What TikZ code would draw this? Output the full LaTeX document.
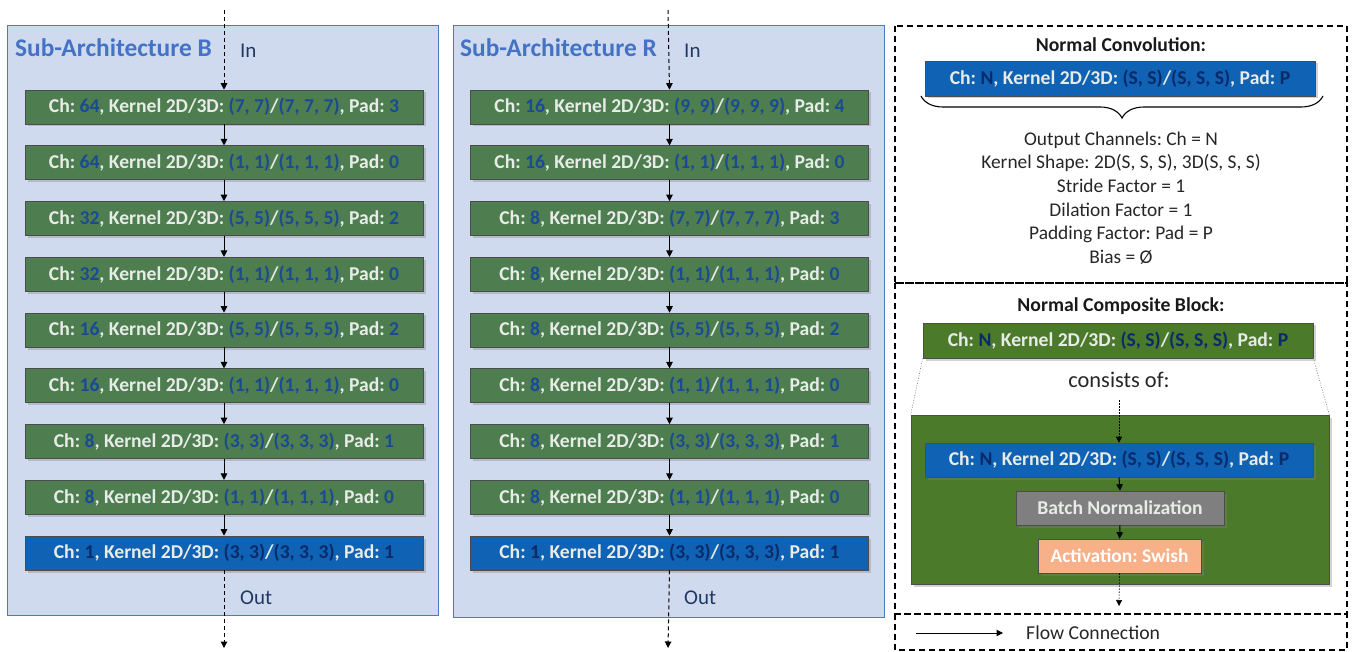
\documentclass[tikz,border=0pt]{standalone}
\usepackage{fontspec}
\setmainfont{Carlito}
\usetikzlibrary{arrows.meta,shadows,decorations.pathreplacing}
\frenchspacing
\definecolor{panelfill}{HTML}{CFDAEE}
\definecolor{panelline}{HTML}{4F78C0}
\definecolor{lgreen}{HTML}{4E7D4F}
\definecolor{cgreen}{HTML}{4B7A2B}
\definecolor{lblue}{HTML}{0F62B4}
\definecolor{numg}{HTML}{1A4A94}
\definecolor{numb}{HTML}{0A2A6A}
\definecolor{txtw}{HTML}{E8ECE8}
\definecolor{titleblue}{HTML}{4472C4}
\definecolor{inblue}{HTML}{1F3864}
\definecolor{bngrey}{HTML}{7F7F7F}
\definecolor{actor}{HTML}{F7B088}
\definecolor{bodytxt}{HTML}{262626}
\newcommand{\lt}[5]{Ch: \textcolor{#1}{#2}, Kernel 2D/3D: \textcolor{#1}{#3}/\textcolor{#1}{#4}, Pad: \textcolor{#1}{#5}}
\tikzset{
  layer/.style={draw=black!70, line width=0.6pt, minimum width=398pt, minimum height=34pt,
    inner sep=0pt, font=\fontsize{19.6}{22}\selectfont\bfseries, text=txtw,
    drop shadow={shadow xshift=2.5pt, shadow yshift=-2.5pt, opacity=0.35}},
  glayer/.style={layer, fill=lgreen},
  blayer/.style={layer, fill=lblue},
  flow/.style={-{Triangle[length=6.5pt,width=6.5pt]}, line width=1pt, black},
  dflow/.style={flow, dash pattern=on 4pt off 3pt},
  dotflow/.style={-{Triangle[length=6pt,width=6pt]}, line width=0.6pt, black, dash pattern=on 1.5pt off 1.5pt},
  panel/.style={draw=panelline, fill=panelfill, line width=1pt},
  ptitle/.style={anchor=west, text=titleblue, font=\fontsize{25.4}{28}\selectfont\bfseries, inner sep=0pt},
  iolabel/.style={anchor=west, text=inblue, font=\fontsize{21}{24}\selectfont, inner sep=0pt},
  dbox/.style={draw=black, line width=1.2pt, dash pattern=on 6pt off 4pt},
  btitle/.style={font=\fontsize{19.7}{22}\selectfont\bfseries, text=black!90},
  body/.style={font=\fontsize{19.4}{23.6}\selectfont, text=bodytxt, align=center},
}
\begin{document}
\begin{tikzpicture}[x=1pt,y=-1pt]
\useasboundingbox (0,0) rectangle (1352,652);
% ---------------- Panel B ----------------
\draw[panel] (7,26) rectangle (438,615);
\node[ptitle] (tB) at (15,48) {Sub-Architecture B};
\node[iolabel] (inB) at (240,51) {In};
\node[iolabel] (outB) at (240,598) {Out};
\node[glayer] (b1) at (224,107) {\lt{numg}{64}{(7, 7)}{(7, 7, 7)}{3}};
\node[glayer] (b2) at (224,162.75) {\lt{numg}{64}{(1, 1)}{(1, 1, 1)}{0}};
\node[glayer] (b3) at (224,218.5) {\lt{numg}{32}{(5, 5)}{(5, 5, 5)}{2}};
\node[glayer] (b4) at (224,274.25) {\lt{numg}{32}{(1, 1)}{(1, 1, 1)}{0}};
\node[glayer] (b5) at (224,330) {\lt{numg}{16}{(5, 5)}{(5, 5, 5)}{2}};
\node[glayer] (b6) at (224,385.75) {\lt{numg}{16}{(1, 1)}{(1, 1, 1)}{0}};
\node[glayer] (b7) at (224,441.5) {\lt{numg}{8}{(3, 3)}{(3, 3, 3)}{1}};
\node[glayer] (b8) at (224,497.25) {\lt{numg}{8}{(1, 1)}{(1, 1, 1)}{0}};
\node[blayer] (b9) at (224,553) {\lt{numb}{1}{(3, 3)}{(3, 3, 3)}{1}};
\coordinate (bin) at (224,10);
\coordinate (bout) at (224,648);
\draw[dflow] (bin) -- (b1.north);
\foreach \a/\b in {b1/b2,b2/b3,b3/b4,b4/b5,b5/b6,b6/b7,b7/b8,b8/b9} \draw[flow] (\a.south) -- (\b.north);
\draw[dflow] (b9.south) -- (bout);
% ---------------- Panel R ----------------
\draw[panel] (453,26) rectangle (884,617);
\node[ptitle] (tR) at (460,48) {Sub-Architecture R};
\node[iolabel] (inR) at (684,51) {In};
\node[iolabel] (outR) at (684,598) {Out};
\node[glayer] (r1) at (669.5,107) {\lt{numg}{16}{(9, 9)}{(9, 9, 9)}{4}};
\node[glayer] (r2) at (669.5,162.75) {\lt{numg}{16}{(1, 1)}{(1, 1, 1)}{0}};
\node[glayer] (r3) at (669.5,218.5) {\lt{numg}{8}{(7, 7)}{(7, 7, 7)}{3}};
\node[glayer] (r4) at (669.5,274.25) {\lt{numg}{8}{(1, 1)}{(1, 1, 1)}{0}};
\node[glayer] (r5) at (669.5,330) {\lt{numg}{8}{(5, 5)}{(5, 5, 5)}{2}};
\node[glayer] (r6) at (669.5,385.75) {\lt{numg}{8}{(1, 1)}{(1, 1, 1)}{0}};
\node[glayer] (r7) at (669.5,441.5) {\lt{numg}{8}{(3, 3)}{(3, 3, 3)}{1}};
\node[glayer] (r8) at (669.5,497.25) {\lt{numg}{8}{(1, 1)}{(1, 1, 1)}{0}};
\node[blayer] (r9) at (669.5,553) {\lt{numb}{1}{(3, 3)}{(3, 3, 3)}{1}};
\coordinate (rin) at (668,10);
\coordinate (rout) at (668,648);
\draw[dflow] (rin) -- (r1.north);
\foreach \a/\b in {r1/r2,r2/r3,r3/r4,r4/r5,r5/r6,r6/r7,r7/r8,r8/r9} \draw[flow] (\a.south) -- (\b.north);
\draw[dflow] (r9.south) -- (rout);
% ---------------- Legend panel ----------------
\draw[dbox] (895,26) rectangle (1347,283);
\draw[dbox] (895,283) rectangle (1347,614);
\draw[dbox] (895,614) rectangle (1347,650);
\node[btitle] (nctitle) at (1121,45) {Normal Convolution:};
\node[blayer, minimum width=390pt, minimum height=35pt] (nc) at (1120,78.5) {\lt{numb}{N}{(S, S)}{(S, S, S)}{P}};
\coordinate (brl) at (921,96);
\coordinate (brr) at (1323,96);
\draw[decorate, decoration={brace, amplitude=22pt, aspect=0.5, raise=0pt}, line width=1.1pt] (brr) -- (brl);
\node[body] (ncdesc) at (1121,198) {Output Channels: Ch = N\\Kernel Shape: 2D(S, S, S), 3D(S, S, S)\\Stride Factor = 1\\Dilation Factor = 1\\Padding Factor: Pad = P\\Bias = Ø};
\node[btitle] (cbtitle) at (1121,306) {Normal Composite Block:};
\node[layer, fill=cgreen, minimum width=390pt, minimum height=35pt] (cb) at (1118,340.5) {\lt{numb}{N}{(S, S)}{(S, S, S)}{P}};
\node[body, font=\fontsize{22.4}{24}\selectfont] (consists) at (1119,380) {consists of:};
\node[draw=black!70, line width=0.6pt, fill=cgreen, minimum width=418pt, minimum height=169pt, inner sep=0pt,
  drop shadow={shadow xshift=2.5pt, shadow yshift=-2.5pt, opacity=0.35}] (big) at (1120,499.5) {};
\draw[gray, line width=0.6pt, dash pattern=on 1pt off 1.5pt] (cb.south west) -- (big.north west);
\draw[gray, line width=0.6pt, dash pattern=on 1pt off 1.5pt] (cb.south east) -- (big.north east);
\node[blayer, minimum width=388pt, minimum height=34pt] (inner) at (1119,460) {\lt{numb}{N}{(S, S)}{(S, S, S)}{P}};
\node[layer, fill=bngrey, minimum width=208pt, minimum height=34pt, font=\fontsize{19.6}{22}\selectfont\bfseries] (bn) at (1120,508) {Batch Normalization};
\node[layer, fill=actor, minimum width=163pt, minimum height=34pt, font=\fontsize{19.4}{22}\selectfont\bfseries, text=white] (act) at (1119.5,556) {Activation: Swish};
\coordinate (cin) at (1119,400);
\coordinate (cout) at (1119,606);
\draw[dotflow] (cin) -- (inner.north);
\draw[flow] (inner.south) -- (bn.north);
\draw[flow] (bn.south) -- (act.north);
\draw[dotflow] (act.south) -- (cout);
\coordinate (fl1) at (916,633);
\coordinate (fl2) at (1003,633);
\draw[flow] (fl1) -- (fl2);
\node[body, anchor=west, font=\fontsize{19.7}{22}\selectfont, inner sep=0pt] (fltext) at (1026,633) {Flow Connection};
\end{tikzpicture}
\end{document}
